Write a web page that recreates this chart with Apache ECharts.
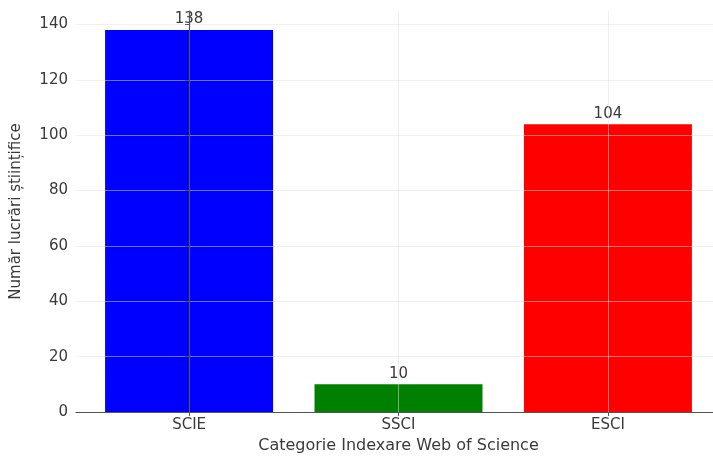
<!DOCTYPE html>
<html>
<head>
<meta charset="utf-8">
<script src="https://cdn.jsdelivr.net/npm/echarts@6/dist/echarts.min.js"></script>
<style>
html,body{margin:0;padding:0;background:#fff;}
#chart{width:713px;height:457px;}
</style>
</head>
<body>
<div id="chart"></div>
<script>
const categories = ['SCIE', 'SSCI', 'ESCI'];
const values = [138, 10, 104];
const barColors = ['#0000ff', '#008000', '#ff0000'];
const yTicks = [0, 20, 40, 60, 80, 100, 120, 140];
const xTitle = 'Categorie Indexare Web of Science';
const yTitle = 'Număr lucrări științifice';

const chart = echarts.init(document.getElementById('chart'));
const font = 'DejaVu Sans';
const txt = '#3a3a3a';
const gridCol = 'rgba(225,225,225,0.5)';
chart.setOption({
  animation: false,
  backgroundColor: '#fff',
  grid: { left: 76, top: 11, width: 645, height: 401, containLabel: false, outerBoundsMode: 'none' },
  xAxis: {
    type: 'value',
    min: -0.54, max: 2.54,
    z: 5,
    axisLine: { show: true, onZero: false, lineStyle: { color: '#555', width: 1.2 } },
    axisTick: { show: true, length: 4, customValues: [0, 1, 2], lineStyle: { color: '#555' } },
    axisLabel: { customValues: [0, 1, 2], formatter: v => categories[Math.round(v)] || '',
      fontFamily: font, fontSize: 15, color: txt, margin: 6 },
    splitLine: { show: true, customValues: [0, 1, 2], lineStyle: { color: gridCol, width: 1 } },
    name: xTitle, nameLocation: 'middle', nameGap: 23,
    nameTextStyle: { fontFamily: font, fontSize: 16, color: txt }
  },
  yAxis: {
    type: 'value', min: 0, max: 144.9, interval: 20,
    z: 5,
    axisLine: { show: true, lineStyle: { color: '#555', width: 1.2 } },
    axisTick: { show: true, length: 4, customValues: yTicks, lineStyle: { color: '#555' } },
    axisLabel: { customValues: yTicks, fontFamily: font, fontSize: 15, color: txt, margin: 8 },
    splitLine: { show: true, lineStyle: { color: gridCol, width: 1 } },
    name: yTitle, nameLocation: 'middle', nameGap: 52, nameRotate: 90,
    nameTextStyle: { fontFamily: font, fontSize: 15, color: txt }
  },
  series: [{
    type: 'bar',
    data: values.map((v, i) => ({ value: [i, v], itemStyle: { color: barColors[i] } })),
    barWidth: 168,
    label: { show: true, position: 'top', distance: 3, fontFamily: font, fontSize: 15, color: txt }
  }]
});
</script>
</body>
</html>
